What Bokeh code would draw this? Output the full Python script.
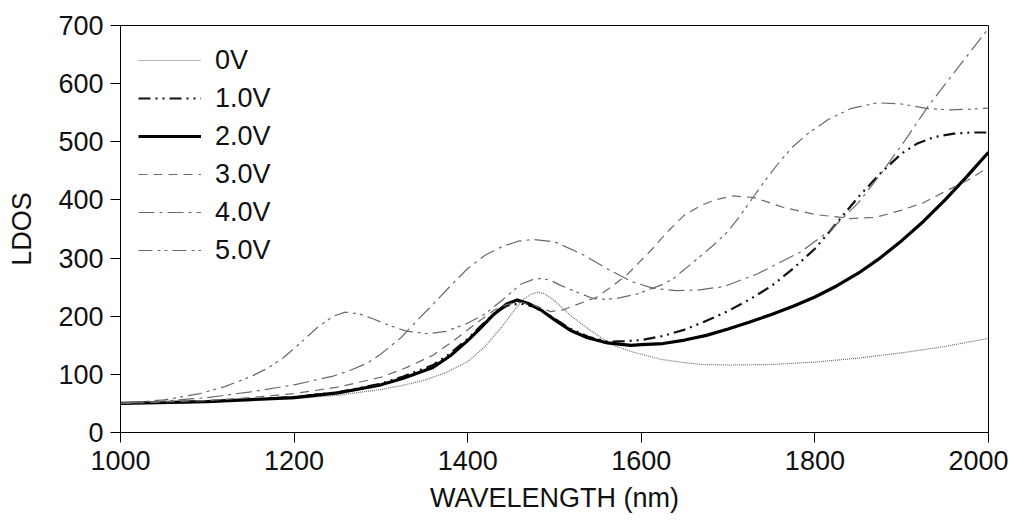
from bokeh.plotting import figure
from bokeh.embed import file_html
from bokeh.resources import INLINE
from bokeh.models import FixedTicker, Range1d

# ---- data ----
labels = ["0V", "1.0V", "2.0V", "3.0V", "4.0V", "5.0V"]

x0 = [1000,1050,1100,1150,1200,1250,1300,1325,1350,1375,1400,1420,1440,1455,1465,1472,1480,1488,1497,1507,1518,1530,1541,1553,1568,1591,1622,1645,1670,1700,1750,1800,1850,1900,1950,2000]
y0 = [50,51,53,55,58,64,74,81,90,103,122,148,183,213,230,237,241,239,230,217,202,188,176,164,150,138,126,121,117,116,117,121,128,137,148,162]

x1 = [1000,1100,1200,1250,1300,1325,1360,1380,1400,1415,1430,1445,1460,1475,1490,1505,1520,1540,1561,1580,1600,1625,1650,1675,1700,1725,1750,1775,1800,1825,1850,1875,1900,1918,1937,1960,1980,2000]
y1 = [50,53,61,69,84,96,116,136,161,183,204,218,222,217,205,191,177,164,156,157,159,166,177,192,209,229,252,282,316,360,405,445,480,497,508,514,516,516]

x2 = [1000,1100,1200,1250,1300,1325,1360,1380,1400,1415,1430,1445,1457,1470,1484,1499,1518,1538,1561,1588,1600,1625,1650,1675,1700,1725,1750,1775,1800,1825,1850,1875,1900,1925,1950,1975,2000]
y2 = [50,53,60,68,82,93,112,132,158,180,203,221,228,222,211,195,176,163,154,150,151,153,159,167,178,190,203,217,233,252,274,300,330,363,400,440,482]

x3 = [1000,1100,1150,1200,1250,1300,1330,1360,1384,1410,1430,1445,1460,1475,1495,1510,1522,1549,1565,1584,1611,1630,1649,1668,1685,1705,1730,1764,1800,1841,1870,1899,1925,1948,1975,2000]
y3 = [50,55,60,67,78,95,112,133,158,188,210,220,224,220,208,211,218,233,250,272,313,345,373,390,400,407,404,387,375,368,370,382,395,413,433,456]

x4 = [1000,1050,1100,1150,1200,1245,1265,1285,1300,1323,1340,1361,1380,1400,1420,1440,1458,1476,1500,1530,1564,1588,1614,1640,1665,1695,1734,1783,1818,1850,1876,1905,1930,1965,2000]
y4 = [50,54,60,70,82,97,107,120,135,163,190,222,252,282,305,320,329,332,328,308,279,260,248,244,245,251,273,310,348,395,445,505,560,628,695]

x5 = [1000,1050,1092,1120,1150,1170,1188,1208,1227,1245,1259,1275,1290,1310,1330,1355,1375,1400,1420,1440,1461,1475,1484,1495,1507,1530,1545,1560,1576,1595,1611,1625,1637,1660,1683,1700,1714,1729,1745,1760,1775,1790,1815,1841,1872,1900,1930,1956,1980,2000]
y5 = [50,56,67,79,96,111,129,155,181,200,207,204,196,184,174,170,174,188,204,228,255,263,265,262,253,239,230,229,232,238,247,255,265,293,322,346,373,405,438,467,492,512,538,557,567,565,557,555,556,558]

x_ticks = [1000, 1200, 1400, 1600, 1800, 2000]
y_ticks = [0, 100, 200, 300, 400, 500, 600, 700]

FONT = "Liberation Sans"

p = figure(width=1008, height=520, output_backend="svg", toolbar_location=None,
           x_range=Range1d(1000, 2000), y_range=Range1d(0, 700),
           min_border_left=120, min_border_right=20, min_border_top=25, min_border_bottom=88)
p.grid.visible = False
p.outline_line_color = "black"
p.outline_line_width = 1
p.background_fill_color = "white"
p.border_fill_color = "white"

styles = [
    (x0, y0, "#6a6a6a", 1.2, "1 1"),
    (x1, y1, "#111111", 2.2, "12 5 2 5 2 5"),
    (x2, y2, "#000000", 3.2, "solid"),
    (x3, y3, "#6a6a6a", 1.2, "9 6"),
    (x4, y4, "#6a6a6a", 1.2, "16 5 3 5"),
    (x5, y5, "#6a6a6a", 1.2, "14 5 3 4 3 5"),
]
for (xs, ys, c, w, d), lab in zip(styles, labels):
    p.line(xs, ys, line_color=c, line_width=w, line_dash=d, line_join="round",
           legend_label=lab)

for ax in (p.xaxis, p.yaxis):
    ax.axis_line_color = "black"
    ax.major_tick_line_color = "black"
    ax.minor_tick_line_color = None
    ax.major_tick_out = 10
    ax.major_tick_in = 0
    ax.major_label_text_font = FONT
    ax.major_label_text_font_size = "27px"
    ax.major_label_text_color = "#111111"
    ax.axis_label_text_font = FONT
    ax.axis_label_text_font_size = "27px"
    ax.axis_label_text_font_style = "normal"
    ax.axis_label_text_color = "#111111"

p.xaxis.ticker = FixedTicker(ticks=x_ticks)
p.yaxis.ticker = FixedTicker(ticks=y_ticks)
p.xaxis.axis_label = "WAVELENGTH (nm)"
p.yaxis.axis_label = "LDOS"
p.xaxis.major_label_standoff = 8
p.yaxis.major_label_standoff = 7
p.xaxis.axis_label_standoff = 10
p.yaxis.axis_label_standoff = 18

lg = p.legend[0]
lg.location = (18, 163)
lg.border_line_color = None
lg.background_fill_alpha = 0
lg.margin = 0
lg.padding = 0
lg.spacing = 0
lg.glyph_width = 63
lg.glyph_height = 38
lg.label_height = 38
lg.label_standoff = 14
lg.label_text_font = FONT
lg.label_text_font_size = "27px"
lg.label_text_color = "#111111"

open("out.html", "w").write(file_html(p, INLINE))
